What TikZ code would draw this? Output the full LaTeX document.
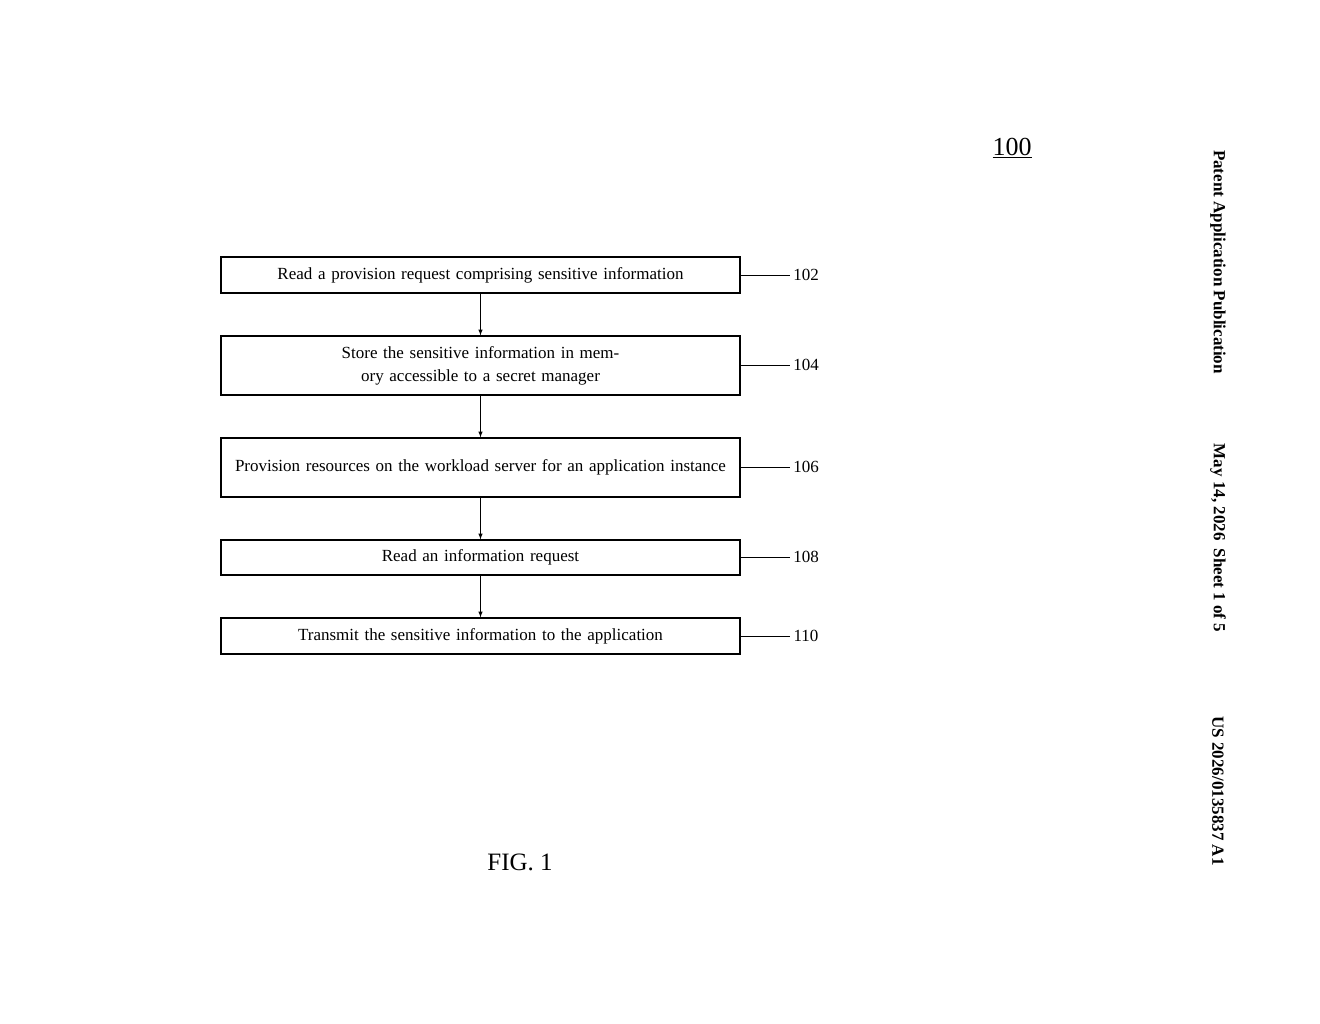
\documentclass[tikz,border=0pt]{standalone}
\usepackage{fontspec}
\setmainfont{Liberation Serif}
\begin{document}
\begin{tikzpicture}[x=1pt,y=-1pt,
  box/.style={draw,line width=1.2pt,minimum width=519pt,text width=500pt,align=center,inner sep=2pt,font=\fontsize{17}{23}\selectfont},
  lbl/.style={font=\fontsize{17}{20}\selectfont},
  arr/.style={-latex,line width=1pt},
  hdr/.style={rotate=-90,font=\bfseries\fontsize{17}{20}\selectfont}]
\useasboundingbox (0,0) rectangle (1320,1024);
\node[box,minimum height=36pt] (b1) at (480.5,275) {Read a provision request comprising sensitive information};
\node[box,minimum height=59pt] (b2) at (480.5,365.5) {Store the sensitive information in memory accessible to a secret manager};
\node[box,minimum height=59pt] (b3) at (480.5,467.5) {Provision resources on the workload server for an application instance};
\node[box,minimum height=35pt] (b4) at (480.5,557.5) {Read an information request};
\node[box,minimum height=36pt] (b5) at (480.5,636) {Transmit the sensitive information to the application};
\draw[arr] (b1) -- (b2);
\draw[arr] (b2) -- (b3);
\draw[arr] (b3) -- (b4);
\draw[arr] (b4) -- (b5);
\foreach \b/\n/\y in {b1/102/275,b2/104/365,b3/106/467,b4/108/557,b5/110/636}{
  \node[lbl] (l\n) at (806,\y) {\n};
  \draw[line width=0.8pt] (\b.east |- 0,\y) -- (l\n.west);
}
\node[font=\fontsize{26}{30}\selectfont] (t100) at (1012,148) {\underline{100}};
\node[font=\fontsize{25}{30}\selectfont] (fig) at (520,862) {FIG. 1};
\node[hdr] (h1) at (1218,262) {Patent Application Publication};
\node[hdr] (h2) at (1218,538) {May 14, 2026\hspace{8pt}Sheet 1 of 5};
\node[hdr] (h3) at (1218,791) {US 2026/0135837 A1};
\end{tikzpicture}
\end{document}
